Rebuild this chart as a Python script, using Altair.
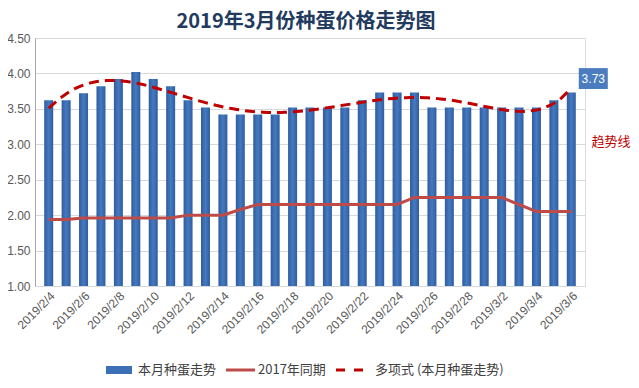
import json
import altair as alt
import pandas as pd

# ---- data ----
dates = ["2019/2/4", "2019/2/5", "2019/2/6", "2019/2/7", "2019/2/8", "2019/2/9",
         "2019/2/10", "2019/2/11", "2019/2/12", "2019/2/13", "2019/2/14", "2019/2/15",
         "2019/2/16", "2019/2/17", "2019/2/18", "2019/2/19", "2019/2/20", "2019/2/21",
         "2019/2/22", "2019/2/23", "2019/2/24", "2019/2/25", "2019/2/26", "2019/2/27",
         "2019/2/28", "2019/3/1", "2019/3/2", "2019/3/3", "2019/3/4", "2019/3/5",
         "2019/3/6"]
price_2019 = [3.62, 3.62, 3.72, 3.82, 3.92, 4.02, 3.92, 3.82, 3.62, 3.52,
              3.42, 3.42, 3.42, 3.42, 3.52, 3.52, 3.52, 3.52, 3.62, 3.73,
              3.73, 3.73, 3.52, 3.52, 3.52, 3.52, 3.52, 3.52, 3.52, 3.62,
              3.73]
price_2017 = [1.94, 1.94, 1.96, 1.96, 1.96, 1.96, 1.96, 1.96, 2.00, 2.00,
              2.00, 2.08, 2.15, 2.15, 2.15, 2.15, 2.15, 2.15, 2.15, 2.15,
              2.15, 2.25, 2.25, 2.25, 2.25, 2.25, 2.25, 2.15, 2.05, 2.05,
              2.05]
idx = list(range(1, len(dates) + 1))
tick_idx = idx[::2]
y_ticks = [1.0, 1.5, 2.0, 2.5, 3.0, 3.5, 4.0, 4.5]

series_names = ["本月种蛋走势", "2017年同期", "多项式 (本月种蛋走势)"]
last_label = ["3.73"]
trend_note = "趋势线"
title_text = "2019年3月份种蛋价格走势图"

df = pd.DataFrame({"idx": idx, "date": dates, "price": price_2019, "y2017": price_2017})

W, H = 550, 248
BAR_BLUE = "#3B6FB6"
LINE_RED = "#BE4B48"
TREND_RED = "#C00000"
CJK = "Noto Sans CJK SC"
LAT = "Liberation Sans"

x_enc = alt.X(
    "idx:Q",
    scale=alt.Scale(domain=[0.5, len(dates) + 0.5], nice=False, zero=False),
    axis=alt.Axis(
        values=tick_idx,
        labelExpr=json.dumps(dates) + "[datum.value - 1]",
        labelAngle=-45, labelAlign="right", labelBaseline="top",
        labelOverlap=False, labelFlush=False,
        ticks=False, domain=False, grid=False, title=None,
        labelFontSize=12, labelColor="#595959", labelFont=LAT, labelPadding=4,
    ),
)

y_scale = alt.Scale(domain=[1.0, 4.5], nice=False, zero=False)
y_axis = alt.Axis(
    values=y_ticks, format=".2f", title=None, ticks=False,
    domain=True, domainColor="#A6A6A6", grid=True, gridColor="#D9D9D9",
    labelFontSize=12, labelColor="#595959", labelFont=LAT, labelPadding=5,
)

base = alt.Chart(df)

bars = base.mark_bar(
    size=9,
    color=alt.Gradient(
        gradient="linear", x1=0, x2=1, y1=0, y2=0,
        stops=[alt.GradientStop(color="#2E5D9F", offset=0),
               alt.GradientStop(color="#4579C0", offset=0.5),
               alt.GradientStop(color="#2E5D9F", offset=1)],
    ),
).encode(
    x=x_enc,
    y=alt.Y("price:Q", scale=y_scale, axis=y_axis),
    y2=alt.datum(1.0),
)

line17 = base.mark_line(color=LINE_RED, strokeWidth=3).encode(
    x=x_enc,
    y=alt.Y("y2017:Q", scale=y_scale, axis=y_axis),
)

trend = base.transform_regression(
    "idx", "price", method="poly", order=6, extent=[1, len(dates)]
).mark_line(color=TREND_RED, strokeWidth=3, strokeDash=[10, 6]).encode(
    x=x_enc,
    y=alt.Y("price:Q", scale=y_scale, axis=y_axis),
)

last_df = df.tail(1).assign(label=last_label)
box = alt.Chart(last_df).mark_point(
    shape="M-1,-0.72L1,-0.72L1,0.72L-1,0.72Z", size=841, filled=True,
    color="#4A7CBF", opacity=1, xOffset=22, yOffset=-14,
).encode(x=x_enc, y=alt.Y("price:Q", scale=y_scale, axis=y_axis))
box_text = alt.Chart(last_df).mark_text(
    color="white", fontSize=12, font=LAT, dx=22, dy=-14,
    align="center", baseline="middle",
).encode(x=x_enc, y=alt.Y("price:Q", scale=y_scale, axis=y_axis), text="label:N")

note = alt.Chart(df.head(1)).mark_text(
    color=TREND_RED, fontSize=13, font=CJK, align="center", baseline="middle",
    text=trend_note,
).encode(x=alt.value(576), y=alt.value(104))

# ---- manual legend (below the axis labels) ----
LY = 332
leg_rect = alt.Chart(df.head(1)).mark_rect(color=BAR_BLUE).encode(
    x=alt.value(71), x2=alt.value(97), y=alt.value(LY - 4), y2=alt.value(LY + 4))
leg_line = alt.Chart(df.head(1)).mark_rule(color=LINE_RED, strokeWidth=3).encode(
    x=alt.value(191), x2=alt.value(220), y=alt.value(LY))
leg_dash = alt.Chart(df.head(1)).mark_rule(
    color=TREND_RED, strokeWidth=3, strokeDash=[9, 9]).encode(
    x=alt.value(301), x2=alt.value(328), y=alt.value(LY))
leg_text_df = pd.DataFrame({"name": series_names, "px": [103, 223, 340]})
leg_text = alt.Chart(leg_text_df).mark_text(
    fontSize=13, font=CJK, color="#404040", align="left", baseline="middle",
).encode(x=alt.X("px:Q", scale=None), y=alt.value(LY), text="name:N")

chart = alt.layer(
    bars, line17, trend, box, box_text, note, leg_rect, leg_line, leg_dash, leg_text
).properties(
    width=W, height=H,
    title=alt.TitleParams(
        text=title_text, fontSize=20, font=CJK, fontWeight="bold",
        color="#223A5E", anchor="middle", frame="group", offset=0, dx=-4, dy=0,
    ),
    autosize=alt.AutoSizeParams(type="none"),
    padding={"left": 27, "top": 30, "right": 46, "bottom": 94},
).configure_view(stroke=None).configure(background="white")

chart.save("out.html", embed_options={"renderer": "svg", "actions": False})
